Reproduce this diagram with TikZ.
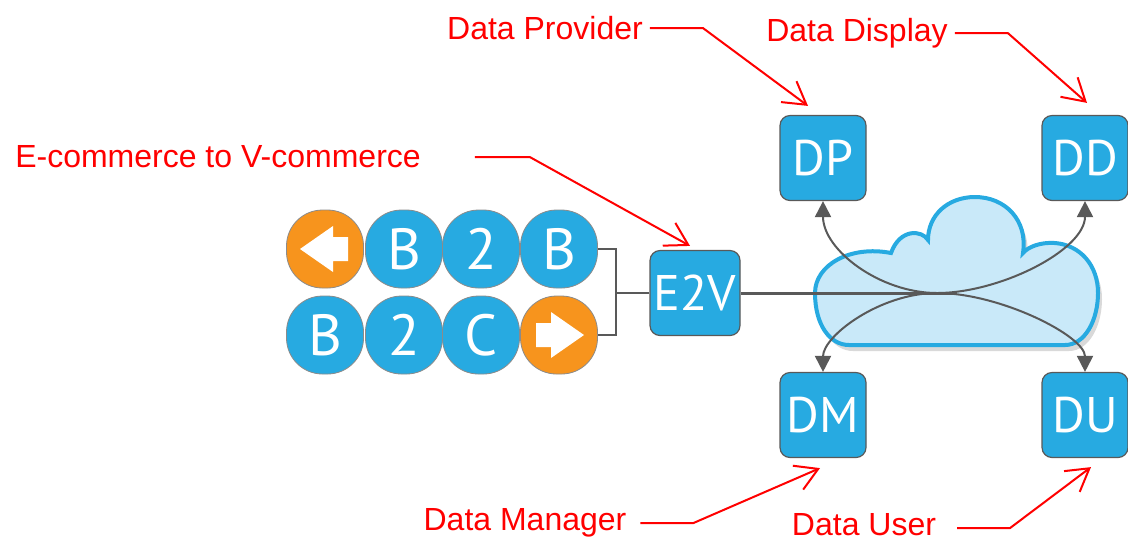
\documentclass[tikz,border=0pt]{standalone}
\usepackage{fontspec}
\setmainfont{Liberation Sans}
\newfontfamily\tilefont{PT Sans}
\usetikzlibrary{arrows.meta,shadows}
\definecolor{boxblue}{HTML}{27AAE1}
\definecolor{tileorange}{HTML}{F7941D}
\definecolor{cloudfill}{HTML}{C9E9F9}
\definecolor{linegray}{HTML}{595959}
\tikzstyle{termbox}=[shape=rectangle, rounded corners=5pt, draw=linegray, line width=0.6pt, fill=boxblue, minimum width=43pt, minimum height=42.5pt, inner sep=0pt, text=white, font=\tilefont\fontsize{25}{25}\selectfont]
\tikzstyle{tilebox}=[shape=rectangle, rounded corners=18pt, draw=linegray!70, line width=0.4pt, fill=boxblue, minimum width=38.5pt, minimum height=39pt, inner sep=0pt, text=white, font=\tilefont\fontsize{29}{29}\selectfont]
\tikzstyle{orbox}=[tilebox, fill=tileorange]
\tikzstyle{redlbl}=[text=red, font=\fontsize{16}{16}\selectfont]
\tikzstyle{redptr}=[draw=red, line width=1pt, -{Straight Barb[length=11pt,width=13pt]}]
\tikzstyle{flowarr}=[draw=linegray, line width=1pt, -{Triangle[length=8pt,width=8pt]}]

\begin{document}
\begin{tikzpicture}[x=0.5pt,y=-0.5pt]
\useasboundingbox (0,0) rectangle (1128,543);

%cloud
\path[fill=cloudfill, draw=boxblue, line width=2pt, drop shadow={shadow xshift=2pt, shadow yshift=-3pt, opacity=0.3, fill=gray}]
  (849,345) -- (1065,345)
  .. controls (1085,345) and (1098,320) .. (1098,293)
  .. controls (1098,265) and (1080,245) .. (1055,243)
  .. controls (1040,242) and (1028,247) .. (1023,253)
  .. controls (1028,220) and (1005,197) .. (975,197)
  .. controls (948,197) and (928,215) .. (928,240)
  .. controls (922,230) and (900,228) .. (891,253)
  .. controls (850,245) and (815,265) .. (815,293)
  .. controls (815,325) and (830,345) .. (849,345) -- cycle;

\node (dp) [termbox] at (823,158) {DP};
\node (dd) [termbox] at (1085,158) {DD};
\node (dm) [termbox] at (823,415) {DM};
\node (du) [termbox] at (1085,415) {DU};
\node (e2v) [termbox, minimum width=45pt] at (695,293) {E2V};

\node (lt) [orbox] at (325,249) {};
\node (b1) [tilebox] at (404,249) {B};
\node (t2) [tilebox] at (481,249) {2};
\node (b2) [tilebox] at (559,249) {B};
\node (b3) [tilebox] at (325,335) {B};
\node (t4) [tilebox] at (404,335) {2};
\node (c1) [tilebox] at (481,335) {C};
\node (rt) [orbox] at (559,335) {};

\fill[white] ([shift={(-25,0)}]lt.center) -- ++(33,-23) -- ++(0,11) -- ++(15,0) -- ++(0,24) -- ++(-15,0) -- ++(0,11) -- cycle;
\fill[white] ([shift={(25,0)}]rt.center) -- ++(-33,-23) -- ++(0,11) -- ++(-15,0) -- ++(0,24) -- ++(15,0) -- ++(0,11) -- cycle;

\draw[linegray, line width=1pt] (b2.east) -- ++(18,0) coordinate (jn) |- (rt.east);
\draw[linegray, line width=1pt] (e2v.west) -- (e2v.west -| jn);

\coordinate (hub) at (937,293);
\coordinate (hubend) at (957,293);
\draw[linegray, line width=1.5pt] (e2v.east) -- (hubend);

%krzywe
\draw[flowarr] (hub) .. controls (880,293) and (823,250) .. (dp.south);
\draw[flowarr] (hub) .. controls (1000,293) and (1085,250) .. (dd.south);
\draw[flowarr] (hub) .. controls (880,293) and (823,336) .. (dm.north);
\draw[flowarr] (hub) .. controls (1000,293) and (1085,336) .. (du.north);

\node (lprov) [redlbl] at (545,28) {Data Provider};
\node (ldisp) [redlbl] at (857,33) {Data Display};
\node (lecom) [redlbl] at (218,157) {E-commerce to V-commerce};
\node (lman) [redlbl] at (525,523) {Data Manager};
\node (luser) [redlbl] at (864,525) {Data User};

\draw[redptr] (lprov.east) -- ++(53,0) -- ([shift={(-15,-9)}]dp.north);
\draw[redptr] (ldisp.east) -- ++(53,0) -- ([shift={(2,-12)}]dd.north);
\draw[redptr] ([shift={(47,0)}]lecom.east) -- ++(55,0) -- ([shift={(-5,-4)}]e2v.north);
\draw[redptr] ([shift={(7,0)}]lman.east) -- ++(53,0) -- ([shift={(-3,10)}]dm.south);
\draw[redptr] ([shift={(14,3)}]luser.east) -- ++(53,0) -- ([shift={(6,9)}]du.south);

\end{tikzpicture}
\end{document}
